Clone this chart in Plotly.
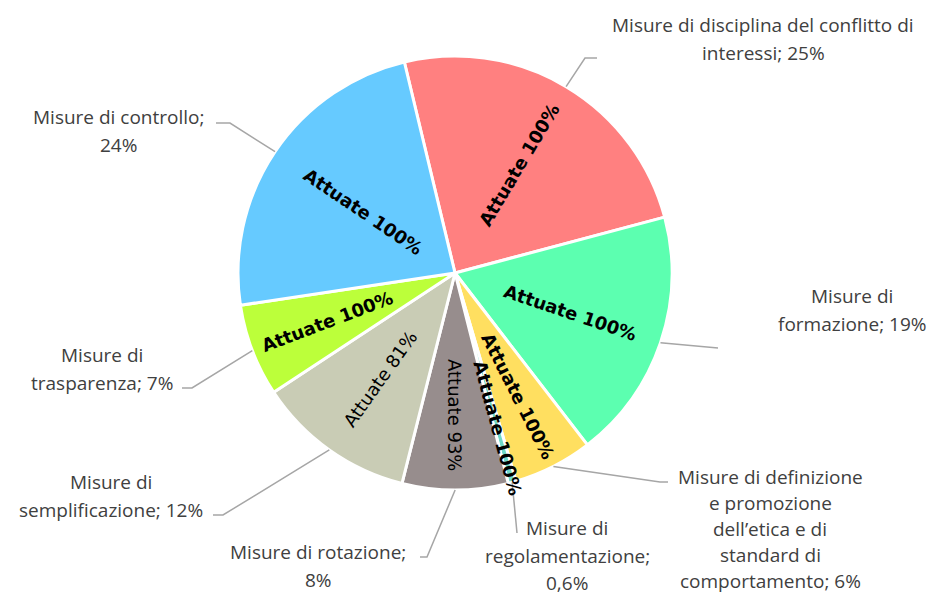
import math
import plotly.graph_objects as go

# data
categorie = [
    "Misure di disciplina del conflitto di interessi",
    "Misure di formazione",
    "Misure di definizione e promozione dell’etica e di standard di comportamento",
    "Misure di regolamentazione",
    "Misure di rotazione",
    "Misure di semplificazione",
    "Misure di trasparenza",
    "Misure di controllo",
]
quote = [25, 19, 6, 0.6, 8, 12, 7, 24]
quote_txt = ["25%", "19%", "6%", "0,6%", "8%", "12%", "7%", "24%"]
attuate = [100, 100, 100, 100, 93, 81, 100, 100]

colori = ["#FF8080", "#5CFFB0", "#FFDF60", "#6FD8C8",
          "#978D8D", "#C9CCB5", "#BCFF3A", "#66CAFF"]

# page is 937x605, the html body has an 8px margin
OFF = 8
W, H = 937 - 2 * OFF, 605 - 2 * OFF
CX, CY, R = 455, 273, 217
ROT = -13.5


def px(x):
    return (x - OFF) / W


def py(y):
    return 1 - (y - OFF) / H


fig = go.Figure(go.Pie(
    labels=categorie,
    values=quote,
    sort=False,
    direction="clockwise",
    rotation=ROT,
    marker=dict(colors=colori, line=dict(color="white", width=3)),
    textinfo="none",
    hoverinfo="label+percent",
    showlegend=False,
    domain=dict(x=[px(CX - R), px(CX + R)], y=[py(CY + R), py(CY - R)]),
))

# mid angle of every slice (clockwise from 12 o'clock)
tot = sum(quote)
mid = []
a = ROT
for v in quote:
    span = 360 * v / tot
    mid.append(a + span / 2)
    a += span

# inside labels, radial
rfrac = [0.58, 0.56, 0.64, 0.74, 0.655, 0.6, 0.63, 0.51]
for ang, pct, f in zip(mid, attuate, rfrac):
    t = math.radians(ang)
    x = CX + f * R * math.sin(t)
    y = CY - f * R * math.cos(t)
    a360 = ang % 360
    tang = a360 - 90 if a360 < 180 else a360 - 270
    txt = f"Attuate {pct}%"
    if pct == 100:
        txt = "<b>" + txt + "</b>"
    fig.add_annotation(x=px(x), y=py(y), xref="paper", yref="paper",
                       xanchor="center", yanchor="middle",
                       text=txt, textangle=tang, showarrow=False,
                       font=dict(family="DejaVu Sans", size=18, color="black"))

# outside labels: lines, center x, first line y, line step, elbow, end of leader
out = [
    (["Misure di disciplina del conflitto di", "interessi; " + quote_txt[0]], 763, 25, 28, (585, 58), (597, 58)),
    (["Misure di", "formazione; " + quote_txt[1]], 852, 296, 28, (718, 348), (718, 348)),
    (["Misure di definizione", "e promozione", "dell’etica e di", "standard di",
      "comportamento; " + quote_txt[2]], 770, 477, 26, (660, 482), (668, 482)),
    (["Misure di", "regolamentazione;", quote_txt[3]], 567, 528, 27.5, (517, 533), (517, 533)),
    (["Misure di rotazione;", quote_txt[4]], 318, 552, 28, (427, 557), (420, 557)),
    (["Misure di", "semplificazione; " + quote_txt[5]], 111, 482, 28, (223, 515), (213, 515)),
    (["Misure di", "trasparenza; " + quote_txt[6]], 102, 355, 28, (192, 388), (182, 388)),
    (["Misure di controllo;", quote_txt[7]], 118, 117, 28, (230, 123), (216, 123)),
]
for (righe, xc, y0, step, elb, end), ang in zip(out, mid):
    for i, r in enumerate(righe):
        fig.add_annotation(x=px(xc), y=py(y0 + i * step), xref="paper", yref="paper",
                           xanchor="center", yanchor="middle",
                           text=r, showarrow=False,
                           font=dict(family="Open Sans", size=19, color="#404040"))
    t = math.radians(ang)
    sx = CX + R * math.sin(t)
    sy = CY - R * math.cos(t)
    fig.add_shape(type="path", xref="paper", yref="paper",
                  path=f"M {px(sx)},{py(sy)} L {px(elb[0])},{py(elb[1])} L {px(end[0])},{py(end[1])}",
                  line=dict(color="#A6A6A6", width=1.5))

fig.update_layout(width=W, height=H, margin=dict(l=0, r=0, t=0, b=0),
                  paper_bgcolor="white", plot_bgcolor="white")
fig.write_html("out.html")
